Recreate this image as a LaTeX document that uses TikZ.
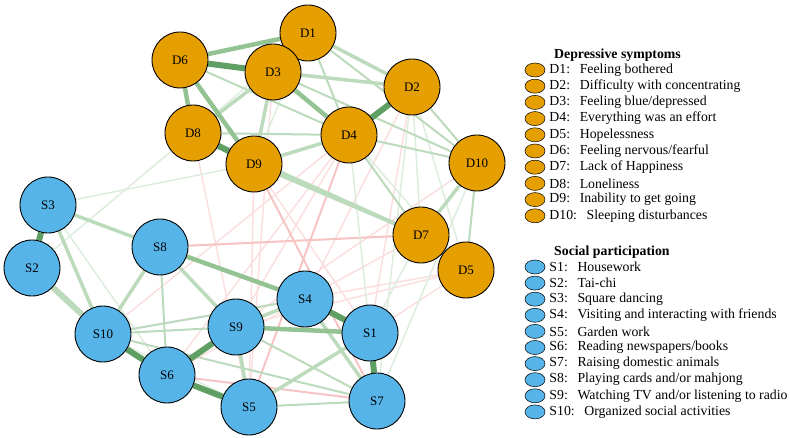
\documentclass[tikz,border=0pt]{standalone}
\usepackage{fontspec}
\setmainfont{Liberation Serif}
\usetikzlibrary{positioning,backgrounds,shapes.geometric}

\definecolor{depcol}{HTML}{E69F00}
\definecolor{soccol}{HTML}{56B4E9}
\definecolor{gdark}{HTML}{5F9F63}
\definecolor{gmid}{HTML}{93C393}
\definecolor{glight}{HTML}{BCDABC}
\definecolor{gfaint}{HTML}{DDEDDD}
\definecolor{rmid}{HTML}{F7C4C4}
\definecolor{rfaint}{HTML}{FBDFDF}

\tikzset{
  dnode/.style={circle,draw=black,line width=0.9pt,fill=depcol,minimum size=56pt,inner sep=0pt,font=\fontsize{13}{13}\selectfont},
  snode/.style={dnode,fill=soccol},
  dkey/.style={ellipse,draw=black,line width=0.5pt,fill=depcol,minimum width=20pt,minimum height=14pt,inner sep=0pt},
  skey/.style={dkey,fill=soccol},
  legtext/.style={anchor=west,inner sep=0pt,font=\fontsize{13.8}{14}\selectfont},
  leghead/.style={legtext,font=\fontsize{13.8}{14}\selectfont\bfseries},
  vstrong/.style={draw=gdark,line width=6pt},
  strong/.style={draw=gmid,line width=4.5pt},
  medium/.style={draw=glight,line width=3.5pt},
  weak/.style={draw=glight,line width=2pt},
  faint/.style={draw=gfaint,line width=1.5pt},
  negm/.style={draw=rmid,line width=2pt},
  negf/.style={draw=rfaint,line width=1.5pt}
}

\begin{document}
\begin{tikzpicture}[x=1pt,y=-1pt]
  \useasboundingbox (0,0) rectangle (790,438);

  % depressive symptoms
  \node[dnode] (D1) at (308,33) {D1};
  \node[dnode] (D6) at (180,60) {D6};
  \node[dnode] (D3) at (273,72) {D3};
  \node[dnode] (D2) at (412,87) {D2};
  \node[dnode] (D8) at (193,133) {D8};
  \node[dnode] (D4) at (349,135) {D4};
  \node[dnode] (D9) at (254,164) {D9};
  \node[dnode] (D10) at (477,163) {D10};
  \node[dnode] (D7) at (421,235) {D7};
  \node[dnode] (D5) at (466,270) {D5};

  % social participation
  \node[snode] (S3) at (48,205) {S3};
  \node[snode] (S2) at (32,268) {S2};
  \node[snode] (S8) at (160,247) {S8};
  \node[snode] (S4) at (305,299) {S4};
  \node[snode] (S10) at (103,334) {S10};
  \node[snode] (S9) at (236,327) {S9};
  \node[snode] (S1) at (370,333) {S1};
  \node[snode] (S6) at (167,375) {S6};
  \node[snode] (S5) at (249,407) {S5};
  \node[snode] (S7) at (377,401) {S7};

  \begin{pgfonlayer}{background}
    % negative edges
    \foreach \a/\b in {S8/D7,D8/S5,D9/S5,D4/S6,D9/S1,D2/S1,D4/S9,D5/S9,D5/S1,D7/S6,D10/S9,D5/S10,D4/S10,D3/S5,D2/S4}
      \draw[negf] (\a) -- (\b);
    \foreach \a/\b in {S6/S7,D4/S5,D9/S7,S8/D7}
      \draw[negm] (\a) -- (\b);
    % faint positive edges
    \foreach \a/\b in {D1/D8,D4/D5,D2/D5,S3/S6,S3/D9,S10/S5,D7/S1,D4/S1,D10/S7,D1/D9,D2/D7,S2/D8,D2/S7}
      \draw[faint] (\a) -- (\b);
    % weak positive edges
    \foreach \a/\b in {D1/D4,D4/D10,D2/D10,D3/D10,D10/D5,D6/D4,D1/D10,S10/S9,S10/S4,S8/S6,S9/S7,S10/S7,S5/S7,D4/D7,D8/D4}
      \draw[weak] (\a) -- (\b);
    % medium positive edges
    \foreach \a/\b in {D3/D8,D3/D9,D3/D2,D9/D4,D9/D7,D8/D7,D10/D7,S3/S10,S3/S8,S9/S4,S9/S5,S4/S7,S5/S1,S8/S9,S8/S10,D1/D2}
      \draw[medium] (\a) -- (\b);
    \draw[glight,line width=6pt] (S2) -- (S10);
    % strong positive edges
    \foreach \a/\b in {D3/D4,D6/D1,D6/D8,D6/D9,S8/S4,S9/S1}
      \draw[strong] (\a) -- (\b);
    \foreach \a/\b in {D4/D2,D6/D3,D8/D9,S3/S2,S4/S1,S1/S7,S10/S6,S6/S9,S6/S5}
      \draw[vstrong] (\a) -- (\b);
  \end{pgfonlayer}

  % legend
  \node[leghead] (dhead) at (554,55) {Depressive symptoms};
  \foreach \i/\txt in {1/{Feeling bothered},2/{Difficulty with concentrating},3/{Feeling blue/depressed},
      4/{Everything was an effort},5/{Hopelessness},6/{Feeling nervous/fearful},7/{Lack of Happiness},
      8/{Loneliness},9/{Inability to get going},10/{Sleeping disturbances}}
  {
    \node[dkey] (kd\i) at (535,{70+16.2*(\i-1)}) {};
    \node[legtext,right=4pt of kd\i] {D\i:\hspace{0.7em}\txt};
  }

  \node[leghead] (shead) at (554,252) {Social participation};
  \foreach \i/\txt in {1/{Housework},2/{Tai-chi},3/{Square dancing},4/{Visiting and interacting with friends},
      5/{Garden work},6/{Reading newspapers/books},7/{Raising domestic animals},
      8/{Playing cards and/or mahjong},9/{Watching TV and/or listening to radio},10/{Organized social activities}}
  {
    \node[skey] (ks\i) at (535,{267+16.1*(\i-1)}) {};
    \node[legtext,right=4pt of ks\i] {S\i:\hspace{0.7em}\txt};
  }
\end{tikzpicture}
\end{document}
